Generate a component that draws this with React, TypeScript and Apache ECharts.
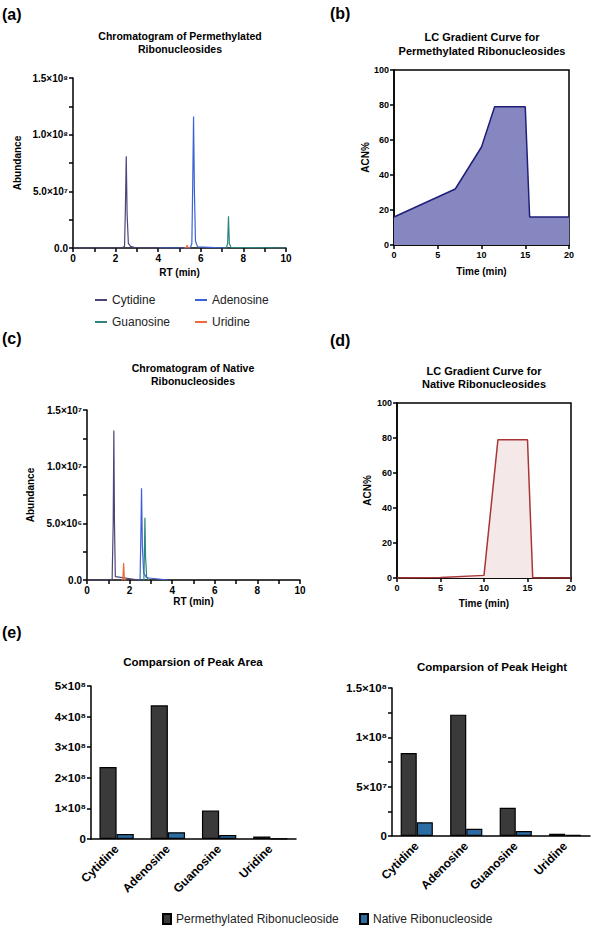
import React, { useEffect, useRef } from "react";
import * as echarts from "echarts";

const FONT = "'Liberation Sans', Arial, Helvetica, sans-serif";

// ---------- (a) Chromatogram of permethylated ribonucleosides: [RT (min), abundance]
const permCytidine = [[0, 0], [2.3, 0], [2.42, 1.5e6], [2.46, 3.5e7], [2.5, 8.1e7], [2.54, 3.0e7], [2.6, 4e6], [2.7, 1.5e6], [2.9, 4e5], [4.2, 0]];
const permAdenosine = [[4.0, 0], [5.5, 0], [5.58, 4e6], [5.62, 5.5e7], [5.66, 1.16e8], [5.7, 5.0e7], [5.75, 6e6], [5.85, 1e6], [7.2, 0]];
const permGuanosine = [[7.0, 0], [7.2, 0], [7.26, 4e6], [7.3, 2.8e7], [7.34, 4e6], [7.42, 5e5], [10, 0]];
const permUridine = [[5.2, 0], [5.32, 0], [5.36, 2.5e6], [5.4, 0], [5.5, 0]];

// ---------- (c) Chromatogram of native ribonucleosides
const natCytidine = [[0, 0], [1.18, 0], [1.23, 5e6], [1.26, 1.32e7], [1.29, 5e6], [1.33, 3e5], [2.45, 0]];
const natUridine = [[1.6, 0], [1.68, 0], [1.72, 1.5e6], [1.76, 0], [1.85, 0]];
const natAdenosine = [[2.4, 0], [2.49, 0], [2.53, 4e6], [2.56, 8.1e6], [2.6, 3e6], [2.66, 6e5], [2.8, 2e5], [3.8, 0]];
const natGuanosine = [[2.6, 0], [2.67, 0], [2.7, 3e6], [2.72, 5.5e6], [2.75, 2e6], [2.8, 3e5], [2.9, 0]];

// ---------- (b) / (d) LC gradient curves
const permGradTime = [0, 7, 10, 11.5, 15, 15.5, 20];
const permGradAcn = [16, 32, 56, 79, 79, 16, 16];
const natGradTime = [0, 5, 10, 11.6, 15, 15.6, 20];
const natGradAcn = [0, 0.3, 1.5, 79, 79, 0, 0];

// ---------- (e) Peak comparison
const nucleosides = ["Cytidine", "Adenosine", "Guanosine", "Uridine"];
const areaPerm = [2.35e8, 4.37e8, 0.93e8, 0.085e8];
const areaNative = [1.6e7, 2.2e7, 1.3e7, 1e6];
const heightPerm = [8.4e7, 1.23e8, 2.87e7, 2.3e6];
const heightNative = [1.39e7, 7.4e6, 5.1e6, 1.2e6];

// ---------- tick labels
const permAbundTicks = ["0.0", "5.0×10⁷", "1.0×10⁸", "1.5×10⁸"]; // step 5e7
const natAbundTicks = ["0.0", "5.0×10⁶", "1.0×10⁷", "1.5×10⁷"]; // step 5e6
const areaTicks = ["0", "1×10⁸", "2×10⁸", "3×10⁸", "4×10⁸", "5×10⁸"]; // step 1e8
const heightTicks = ["0", "5×10⁷", "1×10⁸", "1.5×10⁸"]; // step 5e7

const C_CYT = "#4f4478";
const C_ADE = "#3a61d6";
const C_GUA = "#2f8481";
const C_URI = "#f06a3a";
const C_PERM = "#3a3a3a";
const C_NAT = "#2b6ca3";

const labelAt = (labels: string[], step: number) => (v: number) => {
  const i = Math.round(v / step);
  return Math.abs(v - i * step) < step * 1e-6 ? labels[i] ?? "" : "";
};
const evenOnly = (v: number) => (Math.round(v) % 2 === 0 ? String(Math.round(v)) : "");

const axisLine = { show: true, onZero: false, lineStyle: { color: "#000", width: 1.5 } };
const axisTick = { show: true, length: 4, lineStyle: { color: "#000", width: 1.5 } };
const nameStyle = { fontFamily: FONT, fontWeight: "bold", fontSize: 10, color: "#000" };
const lbl = (size: number, extra: any = {}) => ({ color: "#000", fontFamily: FONT, fontWeight: "bold", fontSize: size, margin: 5, ...extra });

const lineSeries = (name: string, data: number[][], color: string, idx: number) => ({
  type: "line",
  name,
  xAxisIndex: idx,
  yAxisIndex: idx,
  data,
  showSymbol: false,
  symbol: "none",
  lineStyle: { color, width: 1.2 },
  itemStyle: { color },
  silent: true,
});

const titleStyle = (size: number, lh: number) => ({ fontFamily: FONT, fontWeight: "bold", fontSize: size, lineHeight: lh, color: "#000" });

export default function App() {
  const ref = useRef<HTMLDivElement>(null);
  useEffect(() => {
    if (!ref.current) return;
    const chart = echarts.init(ref.current, undefined, { renderer: "svg" });
    const legendCommon = {
      padding: 0,
      itemGap: 0,
      selectedMode: false,
      textStyle: { fontFamily: FONT, fontSize: 12, color: "#222" },
    };
    const option: any = {
      animation: false,
      backgroundColor: "#fff",
      title: [
        { text: "Chromatogram of Permethylated\nRibonucleosides", left: 180, top: 29, textAlign: "center", textVerticalAlign: "top", padding: 0, textStyle: titleStyle(10.5, 13.3) },
        { text: "LC Gradient Curve for\nPermethylated Ribonucleosides", left: 482, top: 30.5, textAlign: "center", textVerticalAlign: "top", padding: 0, textStyle: titleStyle(11, 13.4) },
        { text: "Chromatogram of Native\nRibonucleosides", left: 193, top: 362, textAlign: "center", textVerticalAlign: "top", padding: 0, textStyle: titleStyle(10.5, 12.6) },
        { text: "LC Gradient Curve for\nNative Ribonucleosides", left: 484, top: 365, textAlign: "center", textVerticalAlign: "top", padding: 0, textStyle: titleStyle(11, 12.6) },
        { text: "Comparsion of Peak Area", left: 193, top: 655, textAlign: "center", textVerticalAlign: "top", padding: 0, textStyle: titleStyle(11.5, 13) },
        { text: "Comparsion of Peak Height", left: 492, top: 660, textAlign: "center", textVerticalAlign: "top", padding: 0, textStyle: titleStyle(11.5, 13) },
      ],
      graphic: [
        { type: "text", x: 2, y: 14, style: { text: "(a)", fontSize: 16, fontWeight: "bold", fontFamily: FONT, fill: "#000", verticalAlign: "middle" } },
        { type: "text", x: 330, y: 13, style: { text: "(b)", fontSize: 16, fontWeight: "bold", fontFamily: FONT, fill: "#000", verticalAlign: "middle" } },
        { type: "text", x: 2, y: 338, style: { text: "(c)", fontSize: 16, fontWeight: "bold", fontFamily: FONT, fill: "#000", verticalAlign: "middle" } },
        { type: "text", x: 330, y: 340, style: { text: "(d)", fontSize: 16, fontWeight: "bold", fontFamily: FONT, fill: "#000", verticalAlign: "middle" } },
        { type: "text", x: 2, y: 632, style: { text: "(e)", fontSize: 16, fontWeight: "bold", fontFamily: FONT, fill: "#000", verticalAlign: "middle" } },
      ],
      legend: [
        { ...legendCommon, data: ["Cytidine"], left: 95, top: 294, icon: "rect", itemWidth: 12, itemHeight: 2 },
        { ...legendCommon, data: ["Adenosine"], left: 195, top: 294, icon: "rect", itemWidth: 12, itemHeight: 2 },
        { ...legendCommon, data: ["Guanosine"], left: 95, top: 316, icon: "rect", itemWidth: 12, itemHeight: 2 },
        { ...legendCommon, data: ["Uridine"], left: 195, top: 316, icon: "rect", itemWidth: 12, itemHeight: 2 },
        { ...legendCommon, data: ["Permethylated Ribonucleoside"], left: 162, top: 913, icon: "rect", itemWidth: 8, itemHeight: 10 },
        { ...legendCommon, data: ["Native Ribonucleoside"], left: 359, top: 913, icon: "rect", itemWidth: 8, itemHeight: 10 },
      ],
      grid: [
        { left: 73, top: 78, width: 213, height: 170 },
        { left: 394, top: 70, width: 175, height: 175, show: true, borderColor: "#000", borderWidth: 1.5, backgroundColor: "transparent" },
        { left: 87, top: 410, width: 213, height: 170 },
        { left: 397, top: 403, width: 174, height: 175, show: true, borderColor: "#000", borderWidth: 1.5, backgroundColor: "transparent" },
        { left: 91, top: 686, width: 205, height: 153 },
        { left: 392, top: 688, width: 198, height: 148 },
      ],
      xAxis: [
        { type: "value", gridIndex: 0, min: 0, max: 10, interval: 1, axisLine, axisTick, splitLine: { show: false }, axisLabel: lbl(10, { formatter: evenOnly }), name: "RT (min)", nameLocation: "middle", nameGap: 19.5, nameTextStyle: nameStyle },
        { type: "value", gridIndex: 1, min: 0, max: 20, interval: 5, axisLine, axisTick, splitLine: { show: false }, axisLabel: lbl(9), name: "Time (min)", nameLocation: "middle", nameGap: 21, nameTextStyle: nameStyle },
        { type: "value", gridIndex: 2, min: 0, max: 10, interval: 1, axisLine, axisTick, splitLine: { show: false }, axisLabel: lbl(10, { formatter: evenOnly }), name: "RT (min)", nameLocation: "middle", nameGap: 16.5, nameTextStyle: nameStyle },
        { type: "value", gridIndex: 3, min: 0, max: 20, interval: 5, axisLine, axisTick, splitLine: { show: false }, axisLabel: lbl(9), name: "Time (min)", nameLocation: "middle", nameGap: 20, nameTextStyle: nameStyle },
        { type: "category", gridIndex: 4, data: nucleosides, axisLine, axisTick: { show: false }, axisLabel: lbl(12, { rotate: 45, interval: 0, margin: 8 }) },
        { type: "category", gridIndex: 5, data: nucleosides, axisLine, axisTick: { show: false }, axisLabel: lbl(12, { rotate: 45, interval: 0, margin: 8 }) },
      ],
      yAxis: [
        { type: "value", gridIndex: 0, min: 0, max: 1.5e8, interval: 2.5e7, axisLine, axisTick, splitLine: { show: false }, axisLabel: lbl(10, { formatter: labelAt(permAbundTicks, 5e7) }), name: "Abundance", nameLocation: "middle", nameRotate: 90, nameGap: 51, nameTextStyle: nameStyle },
        { type: "value", gridIndex: 1, min: 0, max: 100, interval: 20, axisLine, axisTick, splitLine: { show: false }, axisLabel: lbl(9), name: "ACN%", nameLocation: "middle", nameRotate: 90, nameGap: 24, nameTextStyle: nameStyle },
        { type: "value", gridIndex: 2, min: 0, max: 1.5e7, interval: 2.5e6, axisLine, axisTick, splitLine: { show: false }, axisLabel: lbl(10, { formatter: labelAt(natAbundTicks, 5e6) }), name: "Abundance", nameLocation: "middle", nameRotate: 90, nameGap: 52, nameTextStyle: nameStyle },
        { type: "value", gridIndex: 3, min: 0, max: 100, interval: 20, axisLine, axisTick, splitLine: { show: false }, axisLabel: lbl(9), name: "ACN%", nameLocation: "middle", nameRotate: 90, nameGap: 25, nameTextStyle: nameStyle },
        { type: "value", gridIndex: 4, min: 0, max: 5e8, interval: 1e8, axisLine, axisTick, splitLine: { show: false }, axisLabel: lbl(11.5, { formatter: labelAt(areaTicks, 1e8) }) },
        { type: "value", gridIndex: 5, min: 0, max: 1.5e8, interval: 2.5e7, axisLine, axisTick, splitLine: { show: false }, axisLabel: lbl(11.5, { formatter: labelAt(heightTicks, 5e7) }) },
      ],
      series: [
        lineSeries("Cytidine", permCytidine, C_CYT, 0),
        lineSeries("Adenosine", permAdenosine, C_ADE, 0),
        lineSeries("Guanosine", permGuanosine, C_GUA, 0),
        lineSeries("Uridine", permUridine, C_URI, 0),
        {
          type: "line", name: "Permethylated gradient", xAxisIndex: 1, yAxisIndex: 1,
          data: permGradTime.map((t, i) => [t, permGradAcn[i]]),
          showSymbol: false, symbol: "none", silent: true,
          lineStyle: { color: "#1f1f7a", width: 1.5 },
          areaStyle: { color: "#8686c0", opacity: 1 },
        },
        lineSeries("Cytidine", natCytidine, C_CYT, 2),
        lineSeries("Uridine", natUridine, C_URI, 2),
        lineSeries("Adenosine", natAdenosine, C_ADE, 2),
        lineSeries("Guanosine", natGuanosine, C_GUA, 2),
        {
          type: "line", name: "Native gradient", xAxisIndex: 3, yAxisIndex: 3,
          data: natGradTime.map((t, i) => [t, natGradAcn[i]]),
          showSymbol: false, symbol: "none", silent: true,
          lineStyle: { color: "#a93636", width: 1.5 },
          areaStyle: { color: "#f4e8e8", opacity: 1 },
        },
        { type: "bar", name: "Permethylated Ribonucleoside", xAxisIndex: 4, yAxisIndex: 4, data: areaPerm, barGap: "0%", barCategoryGap: "33%", itemStyle: { color: C_PERM, borderColor: "#000", borderWidth: 1.2 } },
        { type: "bar", name: "Native Ribonucleoside", xAxisIndex: 4, yAxisIndex: 4, data: areaNative, barGap: "0%", barCategoryGap: "33%", itemStyle: { color: C_NAT, borderColor: "#000", borderWidth: 1.2 } },
        { type: "bar", name: "Permethylated Ribonucleoside", xAxisIndex: 5, yAxisIndex: 5, data: heightPerm, barGap: "0%", barCategoryGap: "35%", itemStyle: { color: C_PERM, borderColor: "#000", borderWidth: 1.2 } },
        { type: "bar", name: "Native Ribonucleoside", xAxisIndex: 5, yAxisIndex: 5, data: heightNative, barGap: "0%", barCategoryGap: "35%", itemStyle: { color: C_NAT, borderColor: "#000", borderWidth: 1.2 } },
      ],
    };
    chart.setOption(option);
    return () => chart.dispose();
  }, []);
  return <div ref={ref} style={{ position: "absolute", left: 0, top: 0, width: 594, height: 930 }} />;
}
